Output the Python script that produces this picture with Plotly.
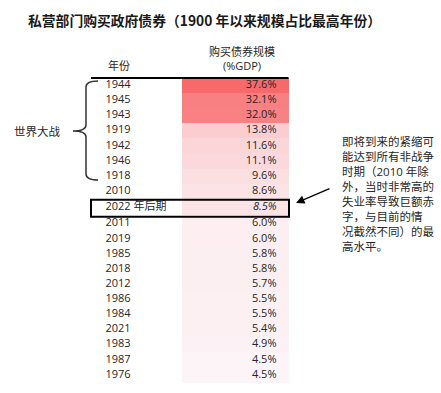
import plotly.graph_objects as go

# ---- data ----
years = ["1944", "1945", "1943", "1919", "1942", "1946", "1918", "2010",
         "2022 年后期", "2011", "2019", "1985", "2018", "2012", "1986",
         "1984", "2021", "1983", "1987", "1976"]
values = [37.6, 32.1, 32.0, 13.8, 11.6, 11.1, 9.6, 8.6,
          8.5, 6.0, 6.0, 5.8, 5.8, 5.7, 5.5,
          5.5, 5.4, 4.9, 4.5, 4.5]
highlight = "2022 年后期"
title = "私营部门购买政府债券（1900 年以来规模占比最高年份）"
col_year = "年份"
col_value = "购买债券规模<br>(%GDP)"
group_label = "世界大战"
note = ("即将到来的紧缩可<br>能达到所有非战争<br>时期（2010 年除<br>外，当时非常高的<br>"
        "失业率导致巨额赤<br>字，与目前的情<br>况截然不同）的最<br>高水平。")

# ---- layout geometry (pixel-like axes) ----
W, H = 441, 393
row0, rh = 85.3, 15.13
hi = years.index(highlight)
ys = []
for i in range(len(years)):
    extra = 0.0
    if i == hi:
        extra = 1.4
    elif i > hi:
        extra = 2.2
    ys.append(row0 + rh * i + extra)

FONT = "Open Sans, Noto Sans CJK SC, sans-serif"
TXT = "#262626"

fig = go.Figure()

# coloured value cells
cell_left, cell_right = 182, 288.5
fig.add_trace(go.Bar(
    orientation="h",
    y=ys,
    x=[cell_right - cell_left] * len(values),
    base=cell_left,
    width=[ys[1] - ys[0]] * len(values),
    marker=dict(color=values, colorscale=[[0, "#fcfcff"], [1, "#f8696b"]],
                cmin=2.6, cmax=37.6, line=dict(width=0)),
    hoverinfo="skip",
    showlegend=False,
))

# year labels
fig.add_trace(go.Scatter(
    x=[105.5] * len(years), y=ys, mode="text",
    text=years, textposition="middle right",
    textfont=dict(family=FONT, size=11, color=TXT),
    hoverinfo="skip", showlegend=False,
))

# value labels
vtext = [("<i>%.1f%%</i>" % v) if y == highlight else ("%.1f%%" % v)
         for y, v in zip(years, values)]
fig.add_trace(go.Scatter(
    x=[276.5] * len(values), y=ys, mode="text",
    text=vtext, textposition="middle left",
    textfont=dict(family=FONT, size=11, color=TXT),
    hoverinfo="skip", showlegend=False,
))

shapes = [
    dict(type="line", x0=91, x1=288.5, y0=78, y1=78, xref="x", yref="y",
         line=dict(color="black", width=2)),
    dict(type="rect", x0=91, x1=289, y0=(ys[hi - 1] + ys[hi]) / 2 + 0.3,
         y1=(ys[hi] + ys[hi + 1]) / 2 + 1, xref="x", yref="y",
         line=dict(color="black", width=2)),
    dict(type="path", xref="x", yref="y",
         path="M 98 81 Q 86 81 86 87 L 86 125 Q 86 131 73 131 "
              "Q 86 131 86 137 L 86 174 Q 86 180 98 180",
         line=dict(color="#333333", width=1.5)),
]

annotations = [
    dict(text=title, x=26, y=20, xref="x", yref="y", xanchor="left",
         yanchor="middle", showarrow=False,
         font=dict(family="Noto Sans CJK SC, sans-serif", size=13.8, color="#1a1a1a", weight=700)),
    dict(text=col_year, x=106, y=65.5, xref="x", yref="y", xanchor="left",
         yanchor="middle", showarrow=False,
         font=dict(family=FONT, size=11, color=TXT)),
    dict(text=col_value, x=241.5, y=58.5, xref="x", yref="y", xanchor="center",
         yanchor="middle", showarrow=False,
         font=dict(family=FONT, size=11, color=TXT)),
    dict(text=group_label, x=37, y=131, xref="x", yref="y", xanchor="center",
         yanchor="middle", showarrow=False,
         font=dict(family=FONT, size=11.5, color=TXT)),
    dict(text=note, x=340, y=194, xref="x", yref="y", xanchor="left",
         yanchor="middle", align="left", showarrow=False,
         font=dict(family=FONT, size=11.5, color=TXT)),
    dict(text="", x=296, y=203, xref="x", yref="y", ax=331, ay=188,
         axref="x", ayref="y", showarrow=True, arrowhead=2, arrowsize=1.3,
         arrowwidth=1.3, arrowcolor="black"),
]

fig.update_layout(
    width=W, height=H,
    margin=dict(l=0, r=0, t=0, b=0),
    paper_bgcolor="white", plot_bgcolor="white",
    xaxis=dict(range=[0, W], visible=False, fixedrange=True),
    yaxis=dict(range=[H, 0], visible=False, fixedrange=True),
    shapes=shapes, annotations=annotations,
    bargap=0,
)

fig.write_html("out.html", config={"displayModeBar": False},
               post_script="document.body.style.margin='0';document.body.style.overflow='hidden';")
